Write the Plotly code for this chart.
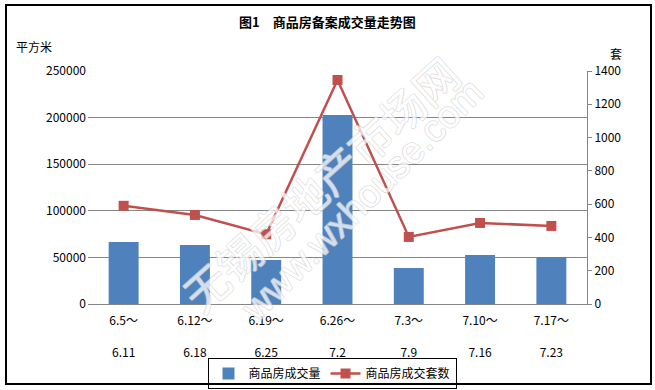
import plotly.graph_objects as go

categories = ["6.5～<br> <br>6.11", "6.12～<br> <br>6.18", "6.19～<br> <br>6.25",
              "6.26～<br> <br>7.2", "7.3～<br> <br>7.9", "7.10～<br> <br>7.16",
              "7.17～<br> <br>7.23"]
area_values = [66500, 63300, 47200, 202800, 38600, 52600, 50400]   # 平方米
unit_values = [590, 535, 419, 1346, 403, 487, 469]                  # 套

left_ticks = [0, 50000, 100000, 150000, 200000, 250000]
right_ticks = [0, 200, 400, 600, 800, 1000, 1200, 1400]

FONT = "Noto Sans CJK SC, SimSun, sans-serif"
GRID = "#868686"

L, R, T, B = 88, 68, 71, 86
PW, PH = 655 - L - R, 390 - T - B


def px(x):
    return (x - L) / PW


def py(y):
    return (390 - B - y) / PH


fig = go.Figure()
fig.add_trace(go.Bar(
    x=categories, y=area_values, name="商品房成交量",
    marker=dict(color="#4F81BD", line=dict(width=0)), width=0.42, yaxis="y"))
fig.add_trace(go.Scatter(
    x=categories, y=unit_values, name="商品房成交套数", mode="lines+markers",
    line=dict(color="#C0504D", width=2.5),
    marker=dict(symbol="square", size=10, color="#C0504D"), yaxis="y2"))

fig.update_layout(
    width=655, height=390,
    margin=dict(l=L, r=R, t=T, b=B, autoexpand=False),
    paper_bgcolor="white", plot_bgcolor="white",
    font=dict(family=FONT, size=12, color="black"),
    showlegend=True,
    legend=dict(orientation="h", x=px(332), xanchor="center", y=py(358), yanchor="top",
                bordercolor="black", borderwidth=1, bgcolor="rgba(0,0,0,0)",
                font=dict(size=12, family=FONT), itemwidth=30,
                tracegroupgap=0),
    xaxis=dict(type="category", showgrid=False, showline=True, linecolor=GRID,
               linewidth=1, ticks="", tickfont=dict(size=12, family=FONT),
               ticklabelstandoff=6, automargin=False),
    yaxis=dict(range=[0, 250000], tickvals=left_ticks,
               ticktext=[str(v) for v in left_ticks],
               showgrid=True, gridcolor=GRID, gridwidth=1, zeroline=False,
               showline=False, ticks="", ticklabelstandoff=1, automargin=False,
               tickfont=dict(size=12, family=FONT)),
    yaxis2=dict(range=[0, 1400], tickvals=right_ticks,
                ticktext=[str(v) for v in right_ticks],
                overlaying="y", side="right", showgrid=False, zeroline=False,
                showline=True, linecolor=GRID, linewidth=1, automargin=False,
                ticks="outside", ticklen=4, tickcolor=GRID,
                tickfont=dict(size=12, family=FONT)),
)

# outer chart border
fig.add_shape(type="rect", xref="paper", yref="paper",
              x0=px(6), x1=px(651), y0=py(384), y1=py(5),
              line=dict(color="black", width=2), fillcolor="rgba(0,0,0,0)",
              layer="above")

# title and axis unit labels
fig.add_annotation(text="<b>图1　商品房备案成交量走势图</b>", xref="paper", yref="paper",
                   x=px(327), y=py(21), showarrow=False,
                   font=dict(size=13, family=FONT), xanchor="center", yanchor="middle")
fig.add_annotation(text="平方米", xref="paper", yref="paper",
                   x=px(14), y=py(47), showarrow=False,
                   font=dict(size=12, family=FONT), xanchor="left", yanchor="middle")
fig.add_annotation(text="套", xref="paper", yref="paper",
                   x=px(616), y=py(53), showarrow=False,
                   font=dict(size=12, family=FONT), xanchor="center", yanchor="middle")

# watermark
oc = "#d2d2d2"
outline = f"0.6px 0.6px 0 {oc}, -0.6px -0.6px 0 {oc}, 0.6px -0.6px 0 {oc}, -0.6px 0.6px 0 {oc}"
fig.add_annotation(text="无锡房地产市场网", xref="paper", yref="paper",
                   x=px(320), y=py(183), showarrow=False,
                   textangle=-42, opacity=0.75,
                   font=dict(size=44, family=FONT, color="white", shadow=outline))
fig.add_annotation(text="www.wxhouse.com", xref="paper", yref="paper",
                   x=px(362), y=py(200), showarrow=False,
                   textangle=-45, opacity=0.75,
                   font=dict(size=38, family="Liberation Sans, sans-serif",
                             color="white", shadow=outline))

fig.write_html("out.html", config={"displayModeBar": False},
               post_script="document.body.style.margin='0';document.body.style.padding='0';"
                           "document.body.style.overflow='hidden';"
                           "document.documentElement.style.overflow='hidden';")
